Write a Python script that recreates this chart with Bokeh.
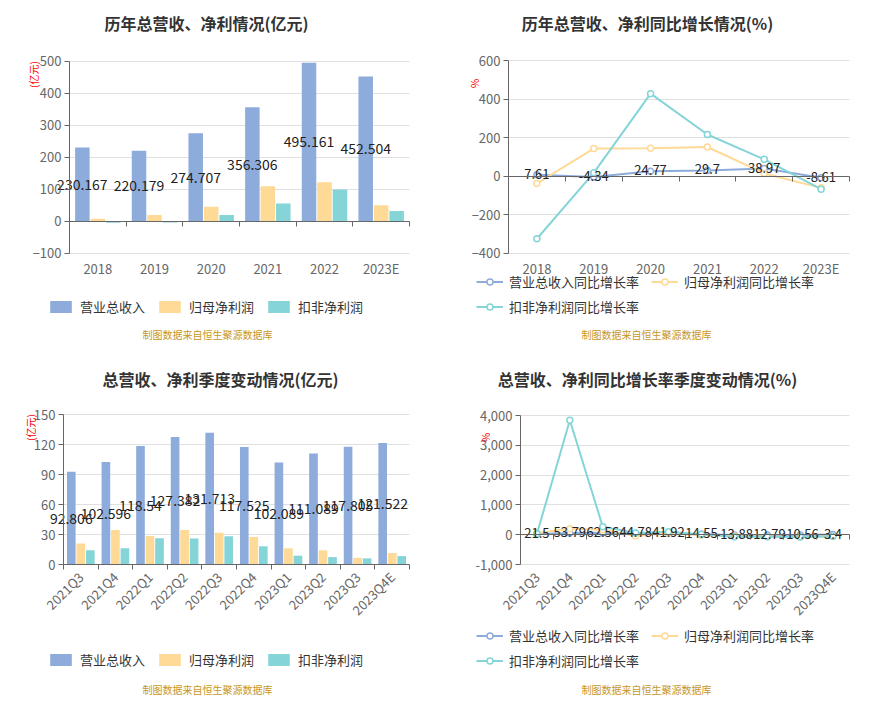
import math
from bokeh.plotting import figure
from bokeh.models import (Range1d, FixedTicker, LinearAxis, Label, Legend, LegendItem,
                          NumeralTickFormatter, ColumnDataSource, Grid)
from bokeh.transform import dodge
from bokeh.layouts import column, row
from bokeh.embed import file_html
from bokeh.resources import INLINE
from bokeh.core.properties import value

# ---------------- data ----------------
years = ["2018", "2019", "2020", "2021", "2022", "2023E"]
rev_y = [230.167, 220.179, 274.707, 356.306, 495.161, 452.504]
net_y = [8, 19, 45, 109, 122, 50]
ded_y = [-5, -4, 19, 55, 99, 32]

rev_yoy = [7.61, -4.34, 24.77, 29.7, 38.97, -8.61]
net_yoy = [-38, 143, 144, 151, 14, -61]
ded_yoy = [-325, 17, 428, 216, 87, -68]

quarters = ["2021Q3", "2021Q4", "2022Q1", "2022Q2", "2022Q3", "2022Q4",
            "2023Q1", "2023Q2", "2023Q3", "2023Q4E"]
rev_q = [92.806, 102.596, 118.54, 127.382, 131.713, 117.525, 102.089, 111.089, 117.805, 121.522]
net_q = [20.9, 34.4, 28.6, 34.4, 31.7, 27.6, 16.2, 14.2, 6.7, 11.5]
ded_q = [14.2, 16.2, 26.3, 26.0, 28.3, 18.2, 8.8, 7.4, 6.1, 8.4]

rev_q_yoy = [21.5, 53.79, 62.56, 44.78, 41.92, 14.55, -13.88, -12.79, -10.56, 3.4]
net_q_yoy = [60, 200, 170, -40, 52, -20, -43, -59, -79, -58]
ded_q_yoy = [30, 3840, 270, 60, 100, 12, -67, -72, -78, -54]

yt_tl = [-100, 0, 100, 200, 300, 400, 500]
yt_tr = [-400, -200, 0, 200, 400, 600]
yt_bl = [0, 30, 60, 90, 120, 150]
yt_br = [-1000, 0, 1000, 2000, 3000, 4000]

series_names = ["营业总收入", "归母净利润", "扣非净利润"]
growth_names = ["营业总收入同比增长率", "归母净利润同比增长率", "扣非净利润同比增长率"]
source_note = "制图数据来自恒生聚源数据库"

# ---------------- style ----------------
FONT = "Noto Sans CJK SC"
BLUE = "#8EACDB"
ORANGE = "#FFD996"
TEAL = "#84D4D8"
AXIS = "#666666"
GRID = "#E0E0E0"
FOOT = "#C8961E"
NAN = float("nan")

HAS_CROSS = "cross_bounds" in Grid.properties()


def make_fig(W, H, L, R, T, B, n, y0, y1, yt, fmt=None):
    """Frame covers the whole figure; the plotting area (L..R, T..B in px) holds x 0..n, y y0..y1."""
    sx = (R - L) / n
    sy = (B - T) / (y1 - y0)
    xr = Range1d(-L / sx, n + (W - R) / sx)
    yr = Range1d(y0 - (H - B) / sy, y1 + T / sy)
    p = figure(width=W, height=H, x_range=xr, y_range=yr,
               output_backend="svg", toolbar_location=None,
               x_axis_type=None, y_axis_type=None, min_border=0)
    p.outline_line_color = None
    p.background_fill_color = "white"
    p.border_fill_color = "white"
    if HAS_CROSS:
        p.add_layout(Grid(dimension=1, ticker=FixedTicker(ticks=yt), grid_line_color=GRID,
                          cross_bounds=(0, n)))
    else:
        p.segment(x0=[0] * len(yt), x1=[n] * len(yt), y0=yt, y1=yt, line_color=GRID, line_width=1)
    ya = LinearAxis(ticker=FixedTicker(ticks=yt), fixed_location=0, bounds=(y0, y1),
                    axis_line_color=AXIS, major_tick_line_color=AXIS, major_tick_out=5,
                    major_tick_in=0, minor_tick_line_color=None, major_label_text_font=FONT,
                    major_label_text_font_size="13px", major_label_text_color=AXIS,
                    major_label_standoff=3)
    if fmt:
        ya.formatter = NumeralTickFormatter(format=fmt)
    p.add_layout(ya, "left")
    return p


def add_xaxes(p, cats, y0, rotate=False):
    n = len(cats)
    overrides = {i + 0.5: c for i, c in enumerate(cats)}
    xa = LinearAxis(ticker=FixedTicker(ticks=[i + 0.5 for i in range(n)]), fixed_location=y0,
                    bounds=(0, n), major_label_overrides=overrides, axis_line_color=None,
                    major_tick_line_color=None, minor_tick_line_color=None,
                    major_label_text_font=FONT, major_label_text_font_size="13px",
                    major_label_text_color=AXIS, major_label_standoff=0)
    if rotate:
        xa.major_label_orientation = math.pi / 4
        xa.major_label_standoff = 4
    p.add_layout(xa, "below")
    za = LinearAxis(ticker=FixedTicker(ticks=list(range(n + 1))), fixed_location=0,
                    bounds=(0, n), axis_line_color=AXIS, major_tick_line_color=AXIS,
                    major_tick_out=5, major_tick_in=0, minor_tick_line_color=None,
                    major_label_text_color=None)
    p.add_layout(za, "below")


def add_text(p, px, py, text, size, color="#333333", bold=False, angle=0.0):
    p.add_layout(Label(x=px, y=p.height - py, x_units="screen", y_units="screen", text=text,
                       text_font=FONT, text_font_size=size, text_color=color,
                       text_font_style="bold" if bold else "normal",
                       text_align="center", text_baseline="middle", angle=angle))


def legend(p, items, px, row_center, spacing=11, standoff=6):
    lg = Legend(items=items, location=(px, p.height - (row_center + 10)), orientation="horizontal",
                padding=0, margin=0, spacing=spacing, glyph_width=27, glyph_height=15,
                label_height=20, label_standoff=standoff, label_text_font=FONT,
                label_text_font_size="13px", label_text_color="#333333",
                label_text_baseline="middle",
                border_line_color=None, background_fill_alpha=0)
    p.add_layout(lg)


def bar_chart(p, cats, rev, net, ded, width, step, label_size):
    src = ColumnDataSource(dict(x=[i + 0.5 for i in range(len(cats))], rev=rev, net=net, ded=ded,
                                half=[v / 2 for v in rev], lbl=[str(v) for v in rev]))
    r1 = p.vbar(x=dodge("x", -step, range=p.x_range), top="rev", width=width, source=src,
                fill_color=BLUE, line_color=None)
    r2 = p.vbar(x="x", top="net", width=width, source=src, fill_color=ORANGE, line_color=None)
    r3 = p.vbar(x=dodge("x", step, range=p.x_range), top="ded", width=width, source=src,
                fill_color=TEAL, line_color=None)
    p.text(x=dodge("x", -step, range=p.x_range), y="half", text="lbl", source=src,
           text_font=value(FONT), text_font_size=value(label_size), text_color="#222222",
           text_align="center", text_baseline="middle")
    return [r1, r2, r3]


def line_chart(p, cats, rev, net, ded):
    src = ColumnDataSource(dict(x=[i + 0.5 for i in range(len(cats))], rev=rev, net=net, ded=ded,
                                lbl=[str(v) for v in rev]))
    out = []
    for key, col in (("rev", BLUE), ("net", ORANGE), ("ded", TEAL)):
        p.line(x="x", y=key, source=src, line_color=col, line_width=2)
        p.scatter(x="x", y=key, source=src, marker="circle", size=6,
                  fill_color="white", line_color=col, line_width=1.5)
        # legend-only icon (line with a larger hollow circle); its single point is NaN
        li = p.line(x=[NAN], y=[NAN], line_color=col, line_width=2)
        si = p.scatter(x=[NAN], y=[NAN], marker="circle", size=11, fill_color="white",
                       line_color=col, line_width=1.5)
        out.append((li, si))
    p.text(x="x", y="rev", text="lbl", source=src, text_font=value(FONT),
           text_font_size=value("13px"), text_color="#222222",
           text_align="center", text_baseline="middle", y_offset=-1)
    return out


# ---------------- top-left ----------------
p1 = make_fig(445, 355, 69, 409, 60.7, 252.7, len(years), -100, 500, yt_tl)
add_xaxes(p1, years, -100)
bars1 = bar_chart(p1, years, rev_y, net_y, ded_y, 0.256, 0.273, "14px")
add_text(p1, 206, 22, "历年总营收、净利情况(亿元)", "16px", bold=True)
add_text(p1, 33, 74, "(亿元)", "10px", color="red", angle=math.pi / 2)
add_text(p1, 207, 334, source_note, "10px", color=FOOT)
legend(p1, [LegendItem(label=n, renderers=[r]) for n, r in zip(series_names, bars1)], 47, 306)

# ---------------- top-right ----------------
p2 = make_fig(444, 355, 63, 404, 60, 252.7, len(years), -400, 600, yt_tr)
add_xaxes(p2, years, -400)
lines2 = line_chart(p2, years, rev_yoy, net_yoy, ded_yoy)
add_text(p2, 202, 22, "历年总营收、净利同比增长情况(%)", "16px", bold=True)
add_text(p2, 29, 83, "%", "10px", color="red", angle=math.pi / 2)
add_text(p2, 201, 334, source_note, "10px", color=FOOT)
legend(p2, [LegendItem(label=growth_names[i], renderers=list(lines2[i])) for i in range(2)],
       31, 281, spacing=12, standoff=6)
legend(p2, [LegendItem(label=growth_names[2], renderers=list(lines2[2]))], 31, 306,
       spacing=12, standoff=6)

# ---------------- bottom-left ----------------
p3 = make_fig(445, 371, 63, 409, 59, 209, len(quarters), 0, 150, yt_bl)
add_xaxes(p3, quarters, 0, rotate=True)
bars3 = bar_chart(p3, quarters, rev_q, net_q, ded_q, 0.25, 0.275, "14px")
add_text(p3, 220, 23, "总营收、净利季度变动情况(亿元)", "16px", bold=True)
add_text(p3, 30, 72, "(亿元)", "10px", color="red", angle=math.pi / 2)
add_text(p3, 207, 334, source_note, "10px", color=FOOT)
legend(p3, [LegendItem(label=n, renderers=[r]) for n, r in zip(series_names, bars3)], 47, 304)

# ---------------- bottom-right ----------------
p4 = make_fig(444, 371, 75, 404, 60, 209, len(quarters), -1000, 4000, yt_br, fmt="0,0")
add_xaxes(p4, quarters, -1000, rotate=True)
lines4 = line_chart(p4, quarters, rev_q_yoy, net_q_yoy, ded_q_yoy)
add_text(p4, 202, 23, "总营收、净利同比增长率季度变动情况(%)", "16px", bold=True)
add_text(p4, 40, 82, "%", "10px", color="red", angle=math.pi / 2)
add_text(p4, 201, 334, source_note, "10px", color=FOOT)
legend(p4, [LegendItem(label=growth_names[i], renderers=list(lines4[i])) for i in range(2)],
       31, 280, spacing=12, standoff=6)
legend(p4, [LegendItem(label=growth_names[2], renderers=list(lines4[2]))], 31, 305,
       spacing=12, standoff=6)

layout = column(row(p1, p2), row(p3, p4))
open("out.html", "w").write(file_html(layout, INLINE))
